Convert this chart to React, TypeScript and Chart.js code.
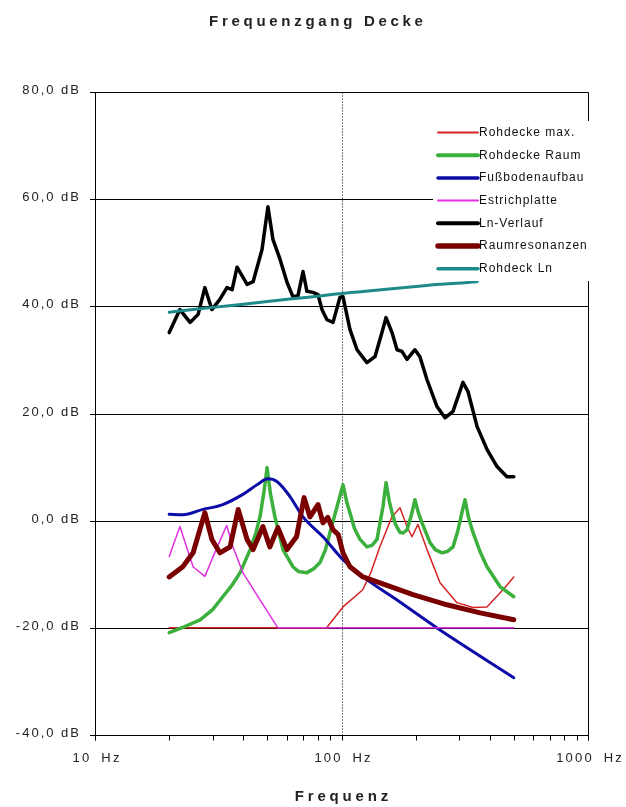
import React, { useEffect, useRef } from "react";
import { Chart, registerables } from "chart.js";

Chart.register(...registerables);

const chartTitle = "Frequenzgang Decke";
const xAxisTitle = "Frequenz";
const yTickValues = [-40, -20, 0, 20, 40, 60, 80];
const xMajorTicks = [10, 100, 1000];
const xMinorTicks = [20, 30, 40, 50, 60, 70, 80, 90, 200, 300, 400, 500, 600, 700, 800, 900];
const markerFreq = 100;

const seriesNames = [
  "Rohdecke max.",
  "Rohdecke Raum",
  "Fußbodenaufbau",
  "Estrichplatte",
  "Ln-Verlauf",
  "Raumresonanzen",
  "Rohdeck Ln",
];

// Rohdecke max.
const maxFreq = [20, 40, 60, 87, 101.4, 122, 132, 143, 160, 172.7, 184.4, 193.2, 204.2, 222.3, 251, 294, 341.5, 389, 452, 500];
const maxDb = [-20, -20, -20, -20, -16.1, -12.9, -9.5, -4.9, 0.7, 2.4, -1.1, -3.0, -0.7, -5.4, -11.6, -15.3, -16.2, -16.1, -12.9, -10.5];

// Rohdecke Raum
const raumFreq = [20, 23, 26.7, 30, 33, 36, 38.8, 42.6, 45, 46.7, 48.5, 49.9, 51.5, 53.7, 57.9, 63.5, 67, 72.4, 77, 81.8, 86, 89.8, 95.9, 101.4, 105, 108.2, 113, 118.9, 126.8, 133, 139.3, 147.3, 151.6, 156, 160.3, 166, 172.7, 178, 184.4, 192, 198.6, 205, 212.1, 228.6, 240, 255.7, 270, 283.3, 296, 308.1, 317, 328, 341.5, 365, 389.2, 439.5, 500];
const raumDb = [-20.9, -19.8, -18.5, -16.6, -14.2, -12.0, -9.7, -5.4, -2.2, 0.7, 5.5, 9.9, 5.0, 0.7, -5.4, -8.6, -9.5, -9.7, -9.0, -7.8, -5.5, -2.2, 2.6, 6.7, 3.5, 1.5, -1.5, -3.5, -4.9, -4.6, -3.5, 2.6, 7.1, 3.8, 1.5, -0.8, -2.2, -2.3, -1.7, 1.0, 3.9, 1.5, -0.4, -4.1, -5.4, -6.0, -5.7, -4.9, -2.0, 1.5, 3.9, 0.5, -2.2, -5.8, -8.6, -12.3, -14.2];

// Fußbodenaufbau
const fbFreq = [20, 22.7, 27.4, 33, 39.8, 45.4, 50.3, 54.7, 61.8, 69.8, 84.1, 101.4, 126.8, 168, 251, 500];
const fbDb = [1.2, 1.1, 2.1, 3.0, 4.9, 6.7, 7.8, 7.3, 4.5, 0.7, -3.0, -7.3, -11.0, -14.8, -20.4, -29.3];

// Estrichplatte
const estFreq = [20, 22.1, 25, 27.9, 31, 34.2, 36.3, 39.8, 46.7, 55.2, 500];
const estDb = [-6.7, -1.1, -8.6, -10.4, -5.4, -0.9, -4.9, -9.7, -14.8, -20, -20];

// Ln-Verlauf
const lnFreq = [20, 22.1, 24.3, 26.2, 27.9, 29.8, 32.1, 34.3, 36.0, 37.7, 41.4, 43.8, 47.6, 50.3, 52.7, 56.3, 60.1, 63.5, 66.6, 69.8, 72.4, 76.6, 80.3, 83.3, 87.3, 92.4, 98.6, 101.4, 108.2, 115.6, 126.8, 136.7, 145.9, 151.6, 160.3, 168, 175.9, 184.4, 198.6, 208, 222.3, 244, 263, 283.3, 311, 326, 354.6, 389.2, 427.5, 469, 500];
const lnDb = [35.1, 39.4, 37.0, 38.5, 43.5, 39.4, 41.3, 43.5, 43.1, 47.3, 44.1, 44.6, 50.6, 58.6, 52.5, 48.8, 44.5, 41.8, 42.0, 46.5, 42.8, 42.6, 42.2, 39.4, 37.5, 37.0, 41.7, 41.8, 35.7, 31.9, 29.5, 30.6, 35.1, 37.9, 35.1, 31.9, 31.6, 30.1, 31.9, 30.6, 26.3, 21.3, 19.2, 20.4, 25.8, 24.1, 17.6, 13.3, 10.1, 8.2, 8.2];

// Raumresonanzen
const rrFreq = [20, 22.7, 25, 27.9, 29.8, 32.1, 35.3, 38.1, 41.4, 43.8, 48, 51.2, 55.2, 60.1, 65.7, 70.5, 74.5, 80.3, 84.1, 88, 92.4, 97, 101.4, 108.2, 122.2, 143.2, 195, 268, 365, 500];
const rrDb = [-10.5, -8.6, -6.0, 1.5, -3.5, -6.0, -4.9, 2.1, -3.5, -5.4, -1.1, -4.9, -1.3, -5.4, -3.0, 4.3, 0.7, 3.0, -0.4, 0.6, -1.7, -2.6, -6.0, -8.6, -10.5, -11.6, -13.8, -15.7, -17.2, -18.5];

// Rohdeck Ln
const tealFreq = [20, 25, 31.5, 40, 50, 63, 80, 100, 125, 160, 200, 250, 315, 355];
const tealDb = [38.9, 39.4, 39.9, 40.4, 40.9, 41.4, 41.9, 42.4, 42.8, 43.3, 43.7, 44.1, 44.4, 44.6];

const seriesColors = ["#d42424", "#3cb03c", "#0c0ca8", "#e030e0", "#000000", "#7a0000", "#1f8a8a"];
const seriesWidths = [1.5, 3.5, 3, 1.5, 3.5, 5, 3];
const smoothSeries = [false, false, true, false, false, false, true];

const FONT = '"Liberation Sans", Arial, sans-serif';

function toPoints(f: number[], v: number[]) {
  return f.map((x, i) => ({ x, y: v[i] }));
}

function drawText(
  ctx: CanvasRenderingContext2D,
  text: string,
  x: number,
  y: number,
  font: string,
  align: "left" | "right" | "center",
  spacing: number,
  color: string,
  wordSpacing = 0
) {
  ctx.save();
  ctx.font = font;
  (ctx as any).letterSpacing = spacing + "px";
  (ctx as any).wordSpacing = wordSpacing + "px";
  ctx.fillStyle = color;
  ctx.textBaseline = "middle";
  ctx.textAlign = "left";
  const w = ctx.measureText(text).width - spacing;
  let sx = x;
  if (align === "right") sx = x - w;
  if (align === "center") sx = x - w / 2;
  ctx.fillText(text, sx, y);
  ctx.restore();
}

const framePlugin = {
  id: "frame",
  beforeDatasetsDraw(chart: any) {
    const { ctx, chartArea: a, scales } = chart;
    const x = scales.x;
    const y = scales.y;
    ctx.save();
    ctx.strokeStyle = "#000";
    ctx.lineWidth = 1;
    yTickValues.forEach((v) => {
      const py = Math.round(y.getPixelForValue(v)) + 0.5;
      ctx.beginPath();
      ctx.moveTo(a.left - 5, py);
      ctx.lineTo(Math.round(a.right) + 0.5, py);
      ctx.stroke();
    });
    const lx = Math.round(a.left) + 0.5;
    const rx = Math.round(a.right) + 0.5;
    const ty = Math.round(a.top) + 0.5;
    const by = Math.round(a.bottom) + 0.5;
    ctx.beginPath();
    ctx.moveTo(lx, ty);
    ctx.lineTo(lx, by + 5);
    ctx.moveTo(rx, ty);
    ctx.lineTo(rx, by + 5);
    ctx.stroke();
    [...xMajorTicks, ...xMinorTicks].forEach((f) => {
      const px = Math.round(x.getPixelForValue(f)) + 0.5;
      ctx.beginPath();
      ctx.moveTo(px, by);
      ctx.lineTo(px, by + 5);
      ctx.stroke();
    });
    const mx = Math.round(x.getPixelForValue(markerFreq)) + 0.5;
    ctx.setLineDash([1, 2]);
    ctx.beginPath();
    ctx.moveTo(mx, ty);
    ctx.lineTo(mx, by);
    ctx.stroke();
    ctx.restore();
  },
  afterDatasetsDraw(chart: any) {
    const { ctx, chartArea: a, scales } = chart;
    const x = scales.x;
    const y = scales.y;
    // legend inside plot
    ctx.save();
    const boxL = 433, boxT = 121, boxR = 597, boxB = 281;
    ctx.fillStyle = "#ffffff";
    ctx.fillRect(boxL, boxT, boxR - boxL, boxB - boxT);
    chart.data.datasets.forEach((ds: any, i: number) => {
      const ry = 132.5 + i * 22.7;
      ctx.strokeStyle = ds.borderColor;
      ctx.lineWidth = ds.borderWidth + 0.5;
      ctx.lineCap = "round";
      ctx.beginPath();
      ctx.moveTo(438, ry);
      ctx.lineTo(478, ry);
      ctx.stroke();
      drawText(ctx, ds.label, 479, ry, "12px " + FONT, "left", 1.0, "#111");
    });
    ctx.restore();

    // y tick labels
    yTickValues.forEach((v) => {
      const py = y.getPixelForValue(v);
      const txt = v.toFixed(1).replace(".", ",") + " dB";
      drawText(ctx, txt, 79, py - 1.5, "13px " + FONT, "right", 2.0, "#222");
    });
    // x tick labels
    xMajorTicks.forEach((f) => {
      const px = x.getPixelForValue(f);
      drawText(ctx, f + " Hz", px + 1, 758, "13px " + FONT, "center", 2.2, "#222", 4);
    });
    // axis title
    drawText(ctx, xAxisTitle, (a.left + a.right) / 2, 797, "bold 15px " + FONT, "center", 3.8, "#222");
    // chart title
    drawText(ctx, chartTitle, 316, 22, "bold 15px " + FONT, "center", 3.7, "#222");
  },
};

export default function App() {
  const ref = useRef<HTMLCanvasElement | null>(null);
  useEffect(() => {
    if (!ref.current) return;
    const sets = [
      toPoints(maxFreq, maxDb),
      toPoints(raumFreq, raumDb),
      toPoints(fbFreq, fbDb),
      toPoints(estFreq, estDb),
      toPoints(lnFreq, lnDb),
      toPoints(rrFreq, rrDb),
      toPoints(tealFreq, tealDb),
    ];
    const chart = new Chart(ref.current, {
      type: "line",
      data: {
        datasets: sets.map((d, i) => ({
          label: seriesNames[i],
          data: d,
          borderColor: seriesColors[i],
          backgroundColor: seriesColors[i],
          borderWidth: seriesWidths[i],
          pointRadius: 0,
          tension: smoothSeries[i] ? 0.4 : 0,
          cubicInterpolationMode: smoothSeries[i] ? ("monotone" as const) : ("default" as const),
          fill: false,
          order: -i,
          borderJoinStyle: "round" as const,
          borderCapStyle: "round" as const,
        })),
      },
      options: {
        animation: false,
        responsive: true,
        maintainAspectRatio: false,
        events: [],
        layout: { padding: { left: 95, right: 38, top: 92, bottom: 72 } },
        plugins: {
          legend: { display: false },
          title: { display: false },
          tooltip: { enabled: false },
        },
        scales: {
          x: { type: "logarithmic", min: 10, max: 1000, display: false },
          y: { type: "linear", min: -40, max: 80, display: false },
        },
      },
      plugins: [framePlugin],
    });
    return () => chart.destroy();
  }, []);
  return (
    <div style={{ position: "absolute", left: 0, top: 0, width: 626, height: 807, background: "#fff" }}>
      <canvas ref={ref} />
    </div>
  );
}
